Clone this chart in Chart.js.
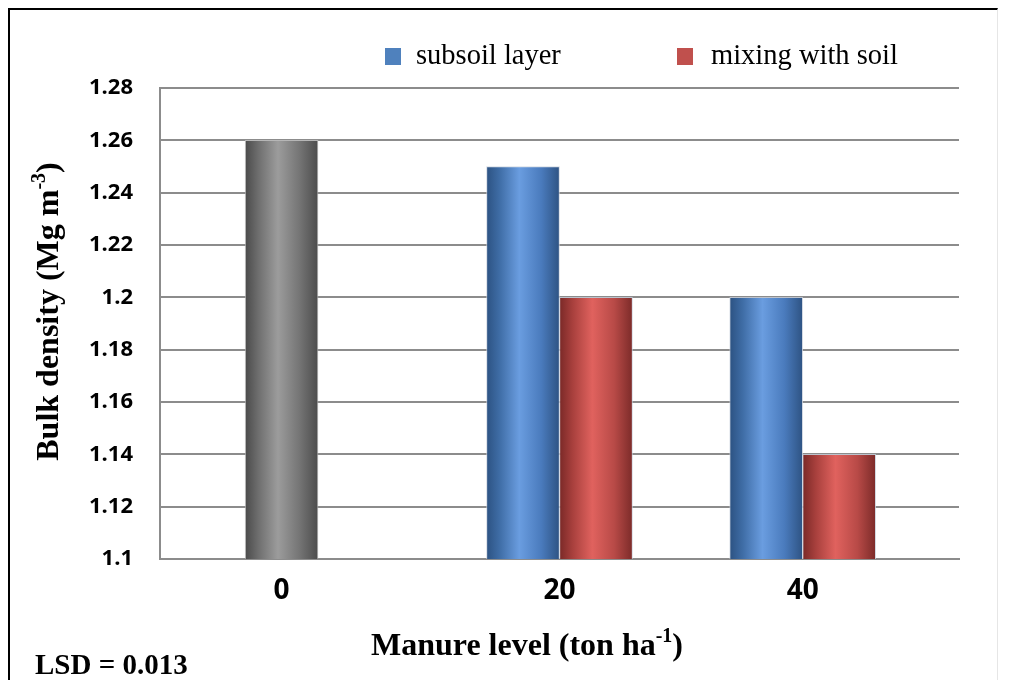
<!DOCTYPE html>
<html>
<head>
<meta charset="utf-8">
<script src="https://cdn.jsdelivr.net/npm/chart.js@4/dist/chart.umd.min.js"></script>
<style>
  html, body { margin: 0; padding: 0; background: #fff; }
  #wrap { position: relative; width: 1013px; height: 680px; overflow: hidden; }
  #frame { position: absolute; left: 8px; top: 8px; width: 987px; height: 700px;
           border-left: 2px solid #000; border-top: 2px solid #000; border-right: 1px solid #e6e6e6; }
  canvas { position: absolute; left: 0; top: 0; }
</style>
</head>
<body>
<div id="wrap">
  <div id="frame"></div>
  <canvas id="c" width="1013" height="680"></canvas>
</div>
<script>
// Manure levels (ton/ha) and bulk density (Mg m^-3)
const levels = ['0', '20', '40'];
const controlValues = [1.26, null, null];
const subsoilValues = [null, 1.25, 1.20];
const mixingValues = [null, 1.20, 1.14];
const yTickValues = [1.1, 1.12, 1.14, 1.16, 1.18, 1.2, 1.22, 1.24, 1.26, 1.28];
const lsdText = 'LSD = 0.013';

// Horizontal slot layout of the category axis (spacer slots keep the uneven spacing)
const levelSlot = [3, 11, 18];
const slotCount = 23;
function spread(values, empty) {
  const out = new Array(slotCount).fill(empty);
  values.forEach((v, i) => { out[levelSlot[i]] = v; });
  return out;
}

// Cylinder-style shading for each series: dark edge, light middle, dark edge
const shades = {
  control: ['#4a4a4a', '#6e6e6e', '#9c9c9c', '#747474', '#4c4c4c'],
  subsoil: ['#2c5282', '#3f6da6', '#6a9de0', '#4a7bbd', '#2e5383'],
  mixing:  ['#7a2927', '#a8403d', '#e0625e', '#b84a47', '#7c2b29']
};
const shadeStops = [0, 0.18, 0.45, 0.75, 1];

const cylinderShading = {
  id: 'cylinderShading',
  beforeDatasetsDraw(chart) {
    const ctx = chart.ctx;
    chart.data.datasets.forEach((ds, di) => {
      const meta = chart.getDatasetMeta(di);
      const cols = shades[ds.shade];
      meta.data.forEach(el => {
        if (!isFinite(el.x) || !isFinite(el.width)) return;
        const g = ctx.createLinearGradient(el.x - el.width / 2, 0, el.x + el.width / 2, 0);
        shadeStops.forEach((s, k) => g.addColorStop(s, cols[k]));
        el.options = Object.assign({}, el.options, { backgroundColor: g });
      });
    });
  }
};

function drawRich(ctx, parts, x, y, size, align) {
  const base = 'bold ' + size + 'px "Liberation Serif", "Times New Roman", serif';
  const sup = 'bold ' + Math.round(size * 0.62) + 'px "Liberation Serif", "Times New Roman", serif';
  let total = 0;
  parts.forEach(p => { ctx.font = p.sup ? sup : base; total += ctx.measureText(p.t).width; });
  let cx = align === 'center' ? x - total / 2 : x;
  ctx.textAlign = 'left';
  ctx.textBaseline = 'alphabetic';
  parts.forEach(p => {
    ctx.font = p.sup ? sup : base;
    ctx.fillText(p.t, cx, p.sup ? y - size * 0.4 : y);
    cx += ctx.measureText(p.t).width;
  });
}

// Axis titles, legend and LSD note
const annotations = {
  id: 'annotations',
  afterDraw(chart) {
    const ctx = chart.ctx;
    const area = chart.chartArea;
    ctx.save();
    ctx.fillStyle = '#000';

    // x-axis title
    drawRich(ctx, [{ t: 'Manure level (ton ha' }, { t: '-1', sup: true }, { t: ')' }],
      area.left + 367, area.bottom + 96, 32, 'center');

    // y-axis title
    ctx.save();
    ctx.translate(58, (area.top + area.bottom) / 2 - 12);
    ctx.rotate(-Math.PI / 2);
    drawRich(ctx, [{ t: 'Bulk density (Mg m' }, { t: '-3', sup: true }, { t: ')' }], 0, 0, 32, 'center');
    ctx.restore();

    // LSD note
    drawRich(ctx, [{ t: lsdText }], 35, 674, 29, 'left');

    // legend (subsoil layer, mixing with soil)
    const items = chart.data.datasets.filter(d => d.inLegend);
    const xs = [area.left + 225, area.left + 517];
    ctx.font = '28.5px "Liberation Serif", "Times New Roman", serif';
    ctx.textBaseline = 'alphabetic';
    ctx.textAlign = 'left';
    items.forEach((d, i) => {
      ctx.fillStyle = d.legendColor;
      ctx.fillRect(xs[i], 48, 16, 17);
      ctx.fillStyle = '#000';
      ctx.fillText(d.label, xs[i] + 31 + (i ? 3 : 0), 64);
    });
    ctx.restore();
  }
};

const gridGray = '#8c8c8c';
const barEdge = 'rgba(200,208,220,0.8)';

new Chart(document.getElementById('c'), {
  type: 'bar',
  data: {
    labels: spread(levels, ''),
    datasets: [
      { label: 'control', data: spread(controlValues, null), shade: 'control', inLegend: false,
        backgroundColor: '#777777', borderColor: 'rgba(200,200,200,0.7)' },
      { label: 'subsoil layer', data: spread(subsoilValues, null), shade: 'subsoil', inLegend: true,
        legendColor: '#4f81bd', backgroundColor: '#4f81bd', borderColor: barEdge },
      { label: 'mixing with soil', data: spread(mixingValues, null), shade: 'mixing', inLegend: true,
        legendColor: '#c0504d', backgroundColor: '#c0504d', borderColor: barEdge }
    ]
  },
  options: {
    responsive: false,
    animation: false,
    events: [],
    layout: { padding: { left: 0, right: 54, top: 88, bottom: 0 } },
    datasets: {
      bar: {
        skipNull: true,
        barThickness: 73,
        borderWidth: { top: 1, left: 1, right: 1, bottom: 0 },
        borderSkipped: 'bottom'
      }
    },
    plugins: {
      colors: { enabled: false },
      legend: { display: false },
      tooltip: { enabled: false }
    },
    scales: {
      x: {
        type: 'category',
        grid: { display: false, drawTicks: false },
        border: { display: true, color: gridGray, width: 2 },
        ticks: {
          autoSkip: false,
          maxRotation: 0,
          padding: 15,
          color: '#000',
          font: { family: '"Open Sans", sans-serif', weight: 'bold', size: 28 }
        },
        afterFit(scale) { scale.height = 121; }
      },
      y: {
        min: 1.1,
        max: 1.28,
        grid: { color: gridGray, lineWidth: 2, drawTicks: false },
        border: { display: true, color: gridGray, width: 2 },
        afterBuildTicks(scale) { scale.ticks = yTickValues.map(v => ({ value: v })); },
        ticks: {
          padding: 27,
          color: '#000',
          font: { family: '"Open Sans", sans-serif', weight: 'bold', size: 22 },
          callback: v => String(+Number(v).toFixed(2))
        },
        afterFit(scale) { scale.width = 160; }
      }
    }
  },
  plugins: [cylinderShading, annotations]
});
</script>
</body>
</html>
